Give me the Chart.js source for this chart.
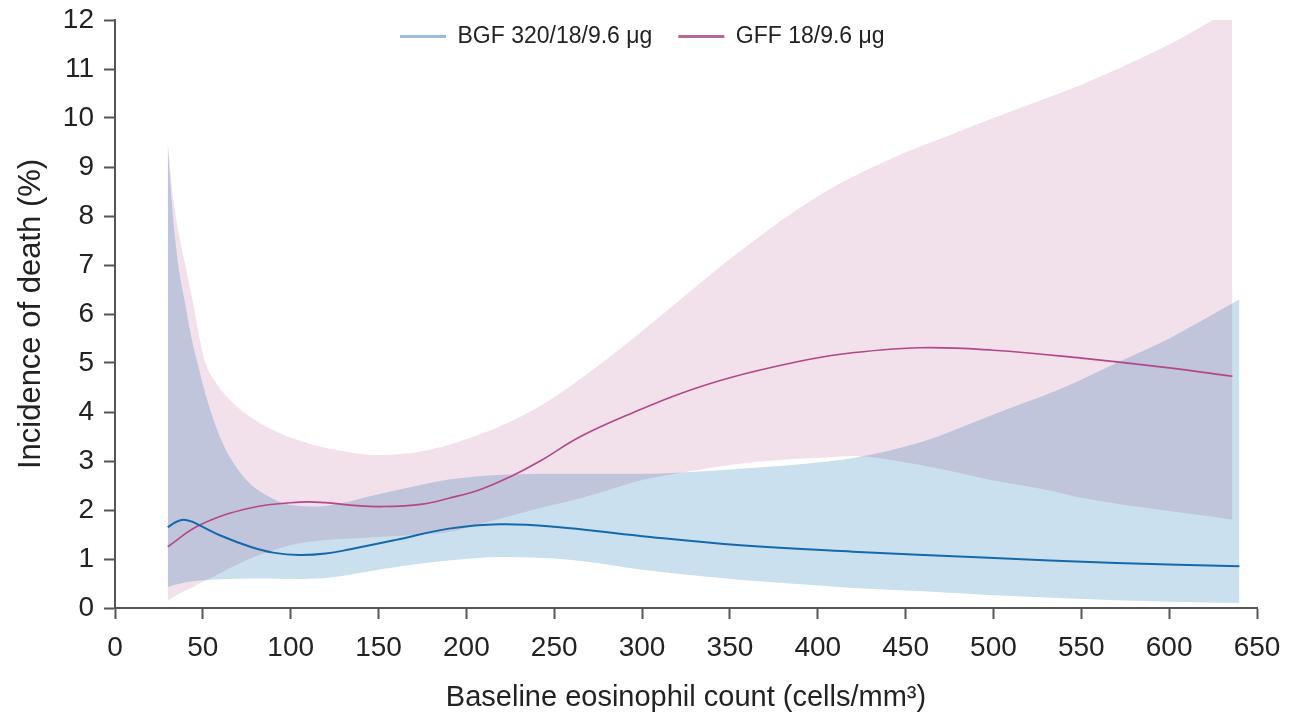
<!DOCTYPE html>
<html>
<head>
<meta charset="utf-8">
<script src="https://cdn.jsdelivr.net/npm/chart.js@4.4.1/dist/chart.umd.min.js"></script>
<style>
html,body{margin:0;padding:0;background:#fff;}
#wrap{width:1291px;height:720px;position:relative;}
</style>
</head>
<body>
<div id="wrap"><canvas id="c"></canvas></div>
<script>
// ---------- data ----------
const seriesNames = ['BGF 320/18/9.6 \u03bcg', 'GFF 18/9.6 \u03bcg'];
const xTickValues = [0, 50, 100, 150, 200, 250, 300, 350, 400, 450, 500, 550, 600, 650];
const yTickValues = [0, 1, 2, 3, 4, 5, 6, 7, 8, 9, 10, 11, 12];
const xTitle = 'Baseline eosinophil count (cells/mm\u00b3)';
const yTitle = 'Incidence of death (%)';

// BGF central estimate
const bgfX = [30, 35, 39, 44, 48, 60, 77, 90, 105, 120, 134, 160, 190, 219, 250, 299, 356, 420, 494, 570, 640];
const bgfY = [1.65, 1.76, 1.8, 1.76, 1.69, 1.48, 1.25, 1.13, 1.08, 1.11, 1.2, 1.39, 1.62, 1.71, 1.66, 1.47, 1.28, 1.15, 1.03, 0.92, 0.85];

// BGF confidence band
const bgfBandX = [30, 32, 36, 40, 43, 48, 52, 58, 65, 75, 86, 100, 115, 130, 150, 170, 190, 220, 260, 300, 320, 360, 400, 420, 460, 500, 540, 570, 600, 640];
const bgfUpper = [9.5, 8.4, 7.0, 6.2, 5.6, 4.85, 4.3, 3.65, 3.1, 2.6, 2.3, 2.1, 2.07, 2.15, 2.32, 2.48, 2.62, 2.72, 2.74, 2.74, 2.76, 2.85, 2.97, 3.06, 3.4, 3.95, 4.5, 5.0, 5.5, 6.3];
const bgfLower = [0.43, 0.45, 0.49, 0.52, 0.54, 0.56, 0.57, 0.58, 0.59, 0.6, 0.6, 0.59, 0.6, 0.66, 0.78, 0.89, 0.97, 1.04, 0.98, 0.78, 0.7, 0.56, 0.46, 0.41, 0.34, 0.26, 0.2, 0.16, 0.13, 0.1];

// GFF central estimate
const gffX = [30, 48, 77, 105, 120, 134, 153, 175, 190, 208, 225, 242, 265, 299, 322, 350, 385, 413, 458, 500, 550, 600, 636];
const gffY = [1.25, 1.69, 2.04, 2.16, 2.15, 2.1, 2.07, 2.12, 2.24, 2.42, 2.68, 3.0, 3.5, 4.05, 4.38, 4.7, 5.0, 5.18, 5.31, 5.26, 5.1, 4.9, 4.73];

// GFF confidence band
const gffBandX = [30, 33, 36, 40, 44, 47, 51, 57, 64, 75, 90, 105, 117, 135, 150, 170, 190, 208, 225, 242, 265, 280, 299, 322, 350, 378, 400, 420, 450, 475, 500, 532, 550, 600, 625, 636];
const gffUpper = [9.5, 8.4, 7.7, 7.0, 6.3, 5.72, 5.05, 4.62, 4.3, 3.95, 3.63, 3.42, 3.29, 3.17, 3.12, 3.17, 3.33, 3.55, 3.8, 4.12, 4.68, 5.08, 5.62, 6.3, 7.12, 7.88, 8.4, 8.8, 9.3, 9.65, 10.0, 10.43, 10.68, 11.5, 12.0, 12.2];
const gffLower = [0.15, 0.22, 0.28, 0.35, 0.42, 0.48, 0.55, 0.66, 0.79, 0.98, 1.18, 1.32, 1.38, 1.42, 1.45, 1.49, 1.55, 1.72, 1.88, 2.04, 2.24, 2.4, 2.6, 2.76, 2.92, 3.02, 3.06, 3.1, 2.97, 2.8, 2.6, 2.4, 2.25, 1.98, 1.86, 1.8];

// ---------- helpers ----------
const pts = (xs, ys) => xs.map((x, i) => ({x: x, y: ys[i]}));
const FONT = "'Liberation Sans', Arial, Helvetica, sans-serif";
const lineColors = ['#1668ad', '#b5468a'];
const legendColors = ['#9bbcdc', '#b8679a'];
const bandColors = ['#cbe0ee', '#f2e1eb'];

// multiply blending for the confidence bands (overlap becomes lavender)
const blendPlugin = {
  id: 'blendBands',
  beforeDatasetsDraw(chart) { chart.ctx.globalCompositeOperation = 'multiply'; },
  beforeDatasetDraw(chart, args) { if (args.index < 2) chart.ctx.globalCompositeOperation = 'source-over'; },
  afterDatasetsDraw(chart) { chart.ctx.globalCompositeOperation = 'source-over'; }
};

// legend sits inside the plot area (takes no layout space)
const legendPlace = {
  id: 'legendPlace',
  afterInit(chart) {
    const lg = chart.legend;
    if (!lg) return;
    const origFit = lg.fit;
    lg.fit = function () { origFit.call(this); this.height = 0; };
  },
  afterLayout(chart) {
    const lg = chart.legend;
    if (!lg || !lg.lineWidths) return;
    const pad = lg.options.labels.padding;
    lg.left = chart.chartArea.left; lg.right = chart.chartArea.right;
    const start = (lg.left + pad + lg.right - lg.lineWidths[0]) / 2;
    const dx = 400 - start;
    lg.left += dx; lg.right += dx;
    lg.top = 25 - pad;
    lg.bottom = lg.top + 2 * pad + 30;
    lg.height = lg.bottom - lg.top;
    lg.width = lg.right - lg.left;
  }
};

new Chart(document.getElementById('c'), {
  type: 'line',
  data: {
    datasets: [
      {label: seriesNames[0], data: pts(bgfX, bgfY), borderColor: lineColors[0], backgroundColor: legendColors[0], borderWidth: 2, fill: false, cubicInterpolationMode: 'default', tension: 0.4},
      {label: seriesNames[1], data: pts(gffX, gffY), borderColor: lineColors[1], backgroundColor: legendColors[1], borderWidth: 1.6, fill: false, cubicInterpolationMode: 'default', tension: 0.4},
      {label: 'bgfUpper', data: pts(bgfBandX, bgfUpper), borderColor: 'rgba(0,0,0,0)', borderWidth: 0, fill: false},
      {label: 'bgfLower', data: pts(bgfBandX, bgfLower), borderColor: 'rgba(0,0,0,0)', borderWidth: 0, backgroundColor: bandColors[0], fill: '-1'},
      {label: 'gffUpper', data: pts(gffBandX, gffUpper), borderColor: 'rgba(0,0,0,0)', borderWidth: 0, fill: false},
      {label: 'gffLower', data: pts(gffBandX, gffLower), borderColor: 'rgba(0,0,0,0)', borderWidth: 0, backgroundColor: bandColors[1], fill: '-1'}
    ]
  },
  options: {
    responsive: true,
    maintainAspectRatio: false,
    animation: false,
    events: [],
    layout: {padding: {top: 20, right: 34, bottom: 0, left: 0}},
    elements: {
      point: {radius: 0, hoverRadius: 0},
      line: {cubicInterpolationMode: 'monotone'}
    },
    plugins: {
      tooltip: {enabled: false},
      legend: {
        position: 'top',
        align: 'center',
        labels: {
          boxWidth: 46,
          boxHeight: 3,
          padding: 26,
          color: '#222',
          font: {family: FONT, size: 23},
          generateLabels: () => seriesNames.map((t, i) => ({
            text: t, fillStyle: legendColors[i], strokeStyle: legendColors[i],
            lineWidth: 0, hidden: false, datasetIndex: i, fontColor: '#222'
          }))
        }
      }
    },
    scales: {
      x: {
        type: 'linear',
        min: 0, max: 650,
        afterBuildTicks: (s) => { s.ticks = xTickValues.map(v => ({value: v})); },
        afterFit: (s) => { s.height = 112; s.paddingLeft = 0; s.paddingRight = 0; },
        ticks: {color: '#222', font: {family: FONT, size: 28}, padding: 12, maxRotation: 0, autoSkip: false},
        grid: {display: true, drawOnChartArea: false, drawTicks: true, tickLength: 11, tickColor: '#555', tickWidth: 2},
        border: {display: true, color: '#555', width: 2},
        title: {display: true, text: xTitle, color: '#222', font: {family: FONT, size: 29}, padding: {top: 0, bottom: 5}}
      },
      y: {
        type: 'linear',
        min: 0, max: 12,
        afterBuildTicks: (s) => { s.ticks = yTickValues.map(v => ({value: v})); },
        afterFit: (s) => { s.width = 115; s.paddingTop = 0; s.paddingBottom = 0; },
        ticks: {color: '#222', font: {family: FONT, size: 28}, padding: 10, autoSkip: false},
        grid: {display: true, drawOnChartArea: false, drawTicks: true, tickLength: 11, tickColor: '#555', tickWidth: 2},
        border: {display: true, color: '#555', width: 2},
        title: {display: true, text: yTitle, color: '#222', font: {family: FONT, size: 31}, padding: {top: 13, bottom: 0}}
      }
    }
  },
  plugins: [blendPlugin, legendPlace]
});
</script>
</body>
</html>
